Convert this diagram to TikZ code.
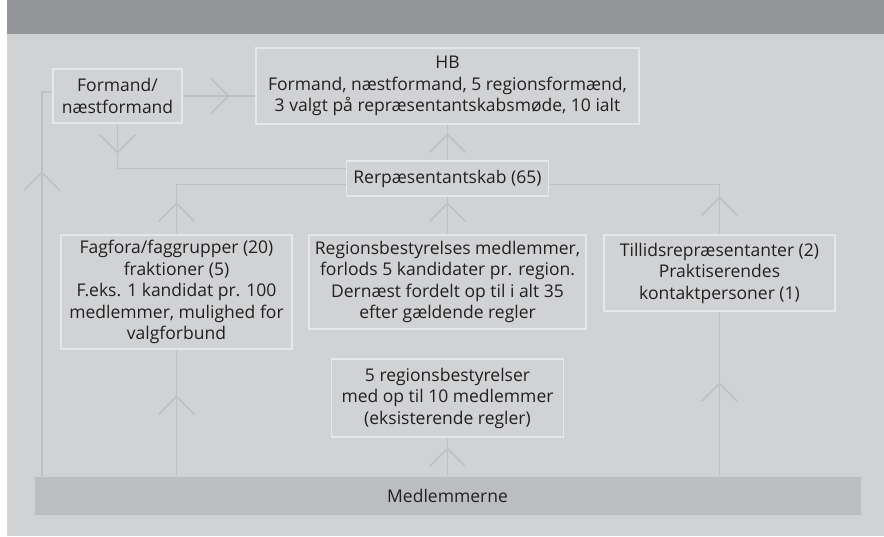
\documentclass[tikz,border=0pt]{standalone}
\usepackage{fontspec}
\setmainfont{Open Sans}
\usetikzlibrary{arrows.meta, positioning, decorations.markings}
\definecolor{bgcol}{HTML}{D1D2D4}
\definecolor{bandcol}{HTML}{939598}
\definecolor{barcol}{HTML}{BCBDC0}
\definecolor{lncol}{HTML}{BFC0C2}
\definecolor{boxline}{HTML}{E6E7E8}
\definecolor{txt}{HTML}{231F20}
\tikzset{chev/.tip={Straight Barb[length=18pt,width=36pt]}}

\begin{document}
\begin{tikzpicture}[
        x=1pt, y=-1pt, on grid,
        box/.style={draw=boxline, line width=1.2pt, fill=bgcol, text=txt, align=center,
                    inner sep=0pt, font=\fontsize{17.5}{21.5}\selectfont},
        link/.style={draw=lncol, line width=1.8pt},
        midarrow/.style={link, postaction={decorate},
                    decoration={markings, mark=at position #1 with {\arrow[lncol, line width=1.5pt]{chev}}}},
        ]
        \useasboundingbox (0,0) rectangle (884,536);
        \fill[bgcol] (7,34) rectangle (884,536);
        \fill[bandcol] (7,0) rectangle (884,34);

        \node[box, minimum width=383pt, minimum height=76pt] (HB) at (447.5,86)
            {HB\\Formand, næstformand, 5 regionsformænd,\\3 valgt på repræsentantskabsmøde, 10 ialt};
        \node[box, minimum width=129pt, minimum height=54pt] (Formand) [below left=10pt and 330pt of HB]
            {Formand/\\næstformand};
        \node[box, minimum width=202pt, minimum height=35pt] (Rep) [below=92.5pt of HB]
            {Rerpæsentantskab (65)};
        \node[box, minimum width=277pt, minimum height=94pt] (Reg) [below=103.5pt of Rep]
            {Regionsbestyrelses medlemmer,\\forlods 5 kandidater pr. region.\\Dernæst fordelt op til i alt 35\\efter gældende regler};
        \node[box, minimum width=231pt, minimum height=114pt] (Fag) [below left=10pt and 271pt of Reg]
            {Fagfora/faggrupper (20)\\fraktioner (5)\\F.eks. 1 kandidat pr. 100\\medlemmer, mulighed for\\valgforbund};
        \node[box, minimum width=231pt, minimum height=76pt] (Till) [above right=9pt and 272pt of Reg]
            {Tillidsrepræsentanter (2)\\Praktiserendes\\kontaktpersoner (1)};
        \node[box, minimum width=232pt, minimum height=78pt] (Bot) [below=116pt of Reg]
            {5 regionsbestyrelser\\med op til 10 medlemmer\\(eksisterende regler)};
        \node[box, draw=none, fill=barcol, minimum width=826pt, minimum height=38pt] (Bar) [below=98pt of Bot]
            {Medlemmerne};

        \coordinate (lft) at ([xshift=8pt]Bar.north west);
        \coordinate (brL) at ([yshift=-6pt]Rep.west);
        \coordinate (brR) at ([yshift=-6pt]Rep.east);

        % upper part
        \draw[midarrow=305pt] (lft) |- ([yshift=4pt]Formand.west);
        \draw[midarrow=47pt] (Formand.east) -- (Formand.east -| HB.west);
        \draw[midarrow=30pt] (Formand.south) |- ([yshift=10pt]Rep.west);
        \draw[midarrow=27pt] (Rep.north) -- (HB.south);

        % from the middle row up to Rerpaesentantskab
        \draw[midarrow=32pt] (Fag.north) |- (brL);
        \draw[midarrow=32pt] (Reg.north) -- (Rep.south);
        \draw[midarrow=38pt] (Till.north) |- (brR);

        % from Medlemmerne
        \draw[midarrow=81pt] (Bar.north -| Fag.south) -- (Fag.south);
        \draw[midarrow=29pt] (Bar.north -| Bot.south) -- (Bot.south);
        \draw[midarrow=94pt] (Bar.north -| Till.south) -- (Till.south);
      \end{tikzpicture}
\end{document}
